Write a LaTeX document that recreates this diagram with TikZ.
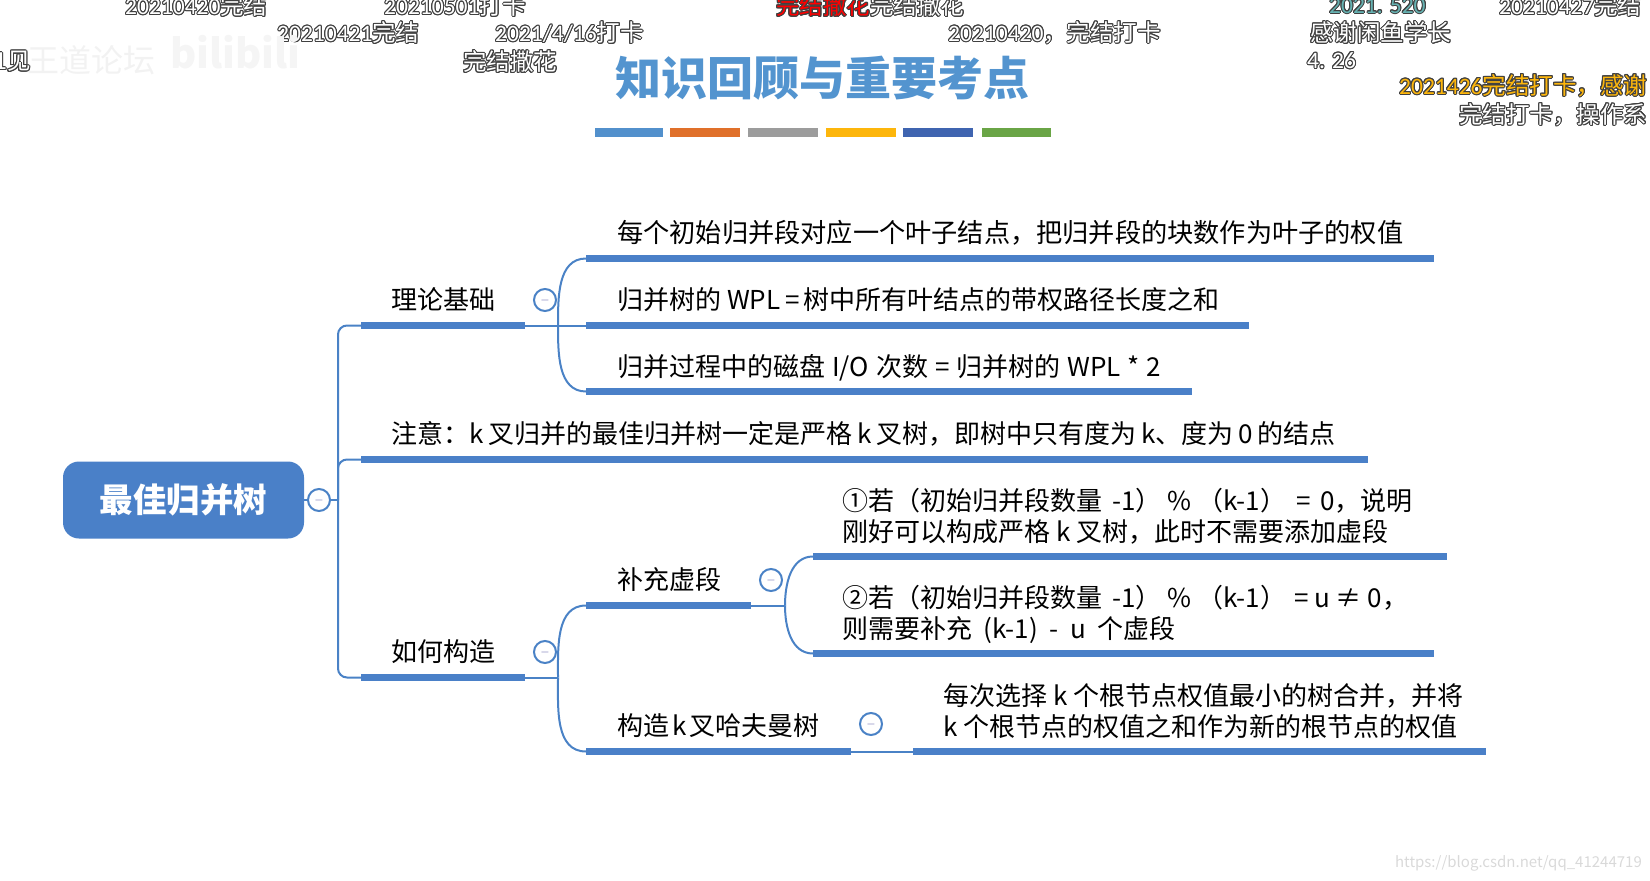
\documentclass[tikz,border=0pt]{standalone}
\usepackage{fontspec}
\usepackage{xcolor}
\usepackage{contour}
\setmainfont{Noto Sans CJK SC}
\newfontfamily\dgfont{Carlito}
\contourlength{1pt}
\definecolor{mapblue}{HTML}{4A80C8}
\definecolor{linkblue}{HTML}{4A82C6}
\definecolor{titleblue}{HTML}{5394CF}
\definecolor{stripblue}{HTML}{5290CC}
\definecolor{striporange}{HTML}{E0702A}
\definecolor{stripgray}{HTML}{9C9C9C}
\definecolor{stripyellow}{HTML}{FDB60C}
\definecolor{stripnavy}{HTML}{3F64B0}
\definecolor{stripgreen}{HTML}{6AA546}
\newcommand{\dm}[1]{\contour{black!75}{#1}}
\newcommand{\dg}[1]{{\dgfont #1}}
\newcommand{\qcomma}{\symbol{"FF0C}}
\newcommand{\qcolon}{\symbol{"FF1A}}
\newcommand{\qlp}{\symbol{"FF08}}
\newcommand{\qrp}{\symbol{"FF09}}
\tikzset{
  topic/.style={anchor=base west,inner sep=0pt,font=\fontsize{26}{31}\selectfont},
  multi/.style={anchor=west,inner sep=0pt,align=left,font=\fontsize{26}{31}\selectfont},
  bar/.style={line width=7pt,mapblue},
  link/.style={line width=2pt,linkblue},
  toggle/.style={circle,draw=linkblue,line width=2pt,fill=white,minimum size=22pt,inner sep=0pt,text=gray!70!blue,font=\fontsize{12}{12}\selectfont},
  danmaku/.style={anchor=west,inner sep=0pt,text=white,font=\fontsize{23.5}{24}\selectfont},
  strip/.style={line width=9pt,preaction={draw,gray!25,transform canvas={yshift=-3pt}}}
}
\begin{document}
\begin{tikzpicture}[x=1pt,y=-1pt]
  \useasboundingbox (0,0) rectangle (1650,881);
  \clip (0,0) rectangle (1650,881);
  \node [inner sep=0pt,text=titleblue,font=\fontsize{46}{46}\bfseries] (title) at (822,78) {知识回顾与重要考点};
  \draw [strip,stripblue] (595,132.5) -- (663,132.5);
  \draw [strip,striporange] (670,132.5) -- (740,132.5);
  \draw [strip,stripgray] (748,132.5) -- (818,132.5);
  \draw [strip,stripyellow] (826,132.5) -- (896,132.5);
  \draw [strip,stripnavy] (903,132.5) -- (973,132.5);
  \draw [strip,stripgreen] (982,132.5) -- (1051,132.5);

  \node [fill=mapblue,rounded corners=16pt,minimum width=241pt,minimum height=77pt,inner sep=0pt,text=white,font=\fontsize{33.5}{34}\bfseries] (root) at (183.5,500) {最佳归并树};
  \node [toggle] (rootT) at (319,500) {$-$};

  \coordinate (theoryL) at (361,325.5); \coordinate (theoryR) at (525,325.5);
  \coordinate (noteL) at (361,459.5); \coordinate (noteR) at (1368,459.5);
  \coordinate (buildL) at (361,677.5); \coordinate (buildR) at (525,677.5);
  \coordinate (leafAL) at (586,258.5); \coordinate (leafAR) at (1434,258.5);
  \coordinate (leafBL) at (586,325.5); \coordinate (leafBR) at (1249,325.5);
  \coordinate (leafCL) at (586,391.5); \coordinate (leafCR) at (1192,391.5);
  \coordinate (fillL) at (586,605.5); \coordinate (fillR) at (751,605.5);
  \coordinate (huffL) at (586,751.5); \coordinate (huffR) at (851,751.5);
  \coordinate (fillAL) at (813,556.5); \coordinate (fillAR) at (1447,556.5);
  \coordinate (fillBL) at (813,653.5); \coordinate (fillBR) at (1434,653.5);
  \coordinate (huffAL) at (913,751.5); \coordinate (huffAR) at (1486,751.5);
  \coordinate (spine) at (338,500);
  \coordinate (forkA) at (558,325.5);
  \coordinate (forkB) at (558,677.5);
  \coordinate (forkC) at (785,605.5);

  \draw [link] (root) -- (rootT) -- (spine);
  \draw [link,rounded corners=9pt] (theoryL) -| (spine) |- (buildL);
  \draw [link,rounded corners=9pt] (noteL) -| (spine);
  \draw [link] (theoryR) -- (leafBL);
  \draw [link] (forkA) to [out=90,in=180] (leafAL);
  \draw [link] (forkA) to [out=-90,in=180] (leafCL);
  \draw [link] (buildR) -- (forkB);
  \draw [link] (forkB) to [out=90,in=180] (fillL);
  \draw [link] (forkB) to [out=-90,in=180] (huffL);
  \draw [link] (fillR) -- (forkC);
  \draw [link] (forkC) to [out=90,in=180] (fillAL);
  \draw [link] (forkC) to [out=-90,in=180] (fillBL);
  \draw [link] (huffR) -- (huffAL);

  \draw [bar] (theoryL) -- (theoryR);
  \draw [bar] (noteL) -- (noteR);
  \draw [bar] (buildL) -- (buildR);
  \draw [bar] (leafAL) -- (leafAR);
  \draw [bar] (leafBL) -- (leafBR);
  \draw [bar] (leafCL) -- (leafCR);
  \draw [bar] (fillL) -- (fillR);
  \draw [bar] (huffL) -- (huffR);
  \draw [bar] (fillAL) -- (fillAR);
  \draw [bar] (fillBL) -- (fillBR);
  \draw [bar] (huffAL) -- (huffAR);

  \node [toggle] (theoryT) at (545,300) {$-$};
  \node [toggle] (buildT) at (545,652) {$-$};
  \node [toggle] (fillT) at (771,580) {$-$};
  \node [toggle] (huffT) at (871,724) {$-$};

  \node [topic] (theory) at (391,309) {理论基础};
  \node [topic] (note) at (391,443) {\spaceskip=4.8pt 注意\qcolon k 叉归并的最佳归并树一定是严格 k 叉树\qcomma 即树中只有度为 k、度为 0 的结点};
  \node [topic] (build) at (391,661) {如何构造};
  \node [topic,font=\fontsize{26.2}{31}\selectfont] (leafA) at (617,242) {每个初始归并段对应一个叶子结点\qcomma 把归并段的块数作为叶子的权值};
  \node [topic] (leafB) at (617,309) {归并树的 WPL\hspace{5pt}=\hspace{4pt}树中所有叶结点的带权路径长度之和};
  \node [topic] (leafC) at (617,376) {\spaceskip=7pt 归并过程中的磁盘 I/O 次数 = 归并树的 WPL * 2};
  \node [topic] (fill) at (617,589) {补充虚段};
  \node [topic] (huff) at (617,735) {构造\hspace{3pt}k\hspace{3pt}叉哈夫曼树};
  \node [multi] (fillA) at (842,516) {{\spaceskip=10pt ①若\qlp 初始归并段数量\hspace{10pt}-1\qrp\hspace{6pt}\%\hspace{6pt}\qlp k-1\qrp\hspace{10pt}= 0\qcomma 说明}\\刚好可以构成严格 k 叉树\qcomma 此时不需要添加虚段};
  \node [multi] (fillB) at (842,614) {②若\qlp 初始归并段数量\hspace{10pt}-1\qrp\hspace{6pt}\%\hspace{6pt}\qlp k-1\qrp\hspace{8pt}= u ≠ 0\qcomma\\{\spaceskip=11.6pt 则需要补充 (k-1) - u 个虚段}};
  \node [multi] (huffA) at (943,711) {每次选择 k 个根节点权值最小的树合并\qcomma 并将\\k 个根节点的权值之和作为新的根节点的权值};

  \node [danmaku] (dmA) at (125,6) {\dm{\dg{20210420}完结}};
  \node [danmaku] (dmB) at (384,6) {\dm{\dg{20210501}打卡}};
  \node [danmaku] (dmC) at (277,33) {\dm{\dg{20210421}完结}};
  \node [danmaku] (dmD) at (495,33) {\dm{\dg{2021/4/16}打卡}};
  \node [danmaku] (dmE) at (463,62) {\dm{完结撒花}};
  \node [danmaku,text=red] (dmF) at (776,6) {\dm{完结撒花}};
  \node [danmaku] (dmG) at (870,6) {\dm{完结撒花}};
  \node [danmaku] (dmH) at (948,33) {\dm{\dg{20210420}\qcomma 完结打卡}};
  \node [danmaku] (dmI) at (1310,33) {\dm{感谢闲鱼学长}};
  \node [danmaku] (dmJ) at (1307,61) {\dm{\dg{4. 26}}};
  \node [danmaku,text=teal!60!white] (dmK) at (1329,6) {\dm{\dg{2021. 520}}};
  \node [danmaku] (dmL) at (1499,6) {\dm{\dg{20210427}完结}};
  \node [danmaku,text=stripyellow] (dmM) at (1399,86) {\dm{\dg{2021426}完结打卡\qcomma 感谢}};
  \node [danmaku] (dmN) at (1459,115) {\dm{完结打卡\qcomma 操作系}};
  \node [danmaku] (dmO) at (-6,62) {\dm{1见}};

  \node [inner sep=0pt,anchor=west,text=gray!10,font=\fontsize{32}{32}\selectfont] (wmA) at (27,60) {王道论坛};
  \node [inner sep=0pt,anchor=west,text=gray!8,font=\fontsize{40}{40}\bfseries] (wmB) at (170,52) {bilibili};
  \node [inner sep=0pt,anchor=east,text=gray!30,font=\fontsize{15}{15}\selectfont] (wmC) at (1642,863) {https://blog.csdn.net/qq\_41244719};
\end{tikzpicture}
\end{document}
